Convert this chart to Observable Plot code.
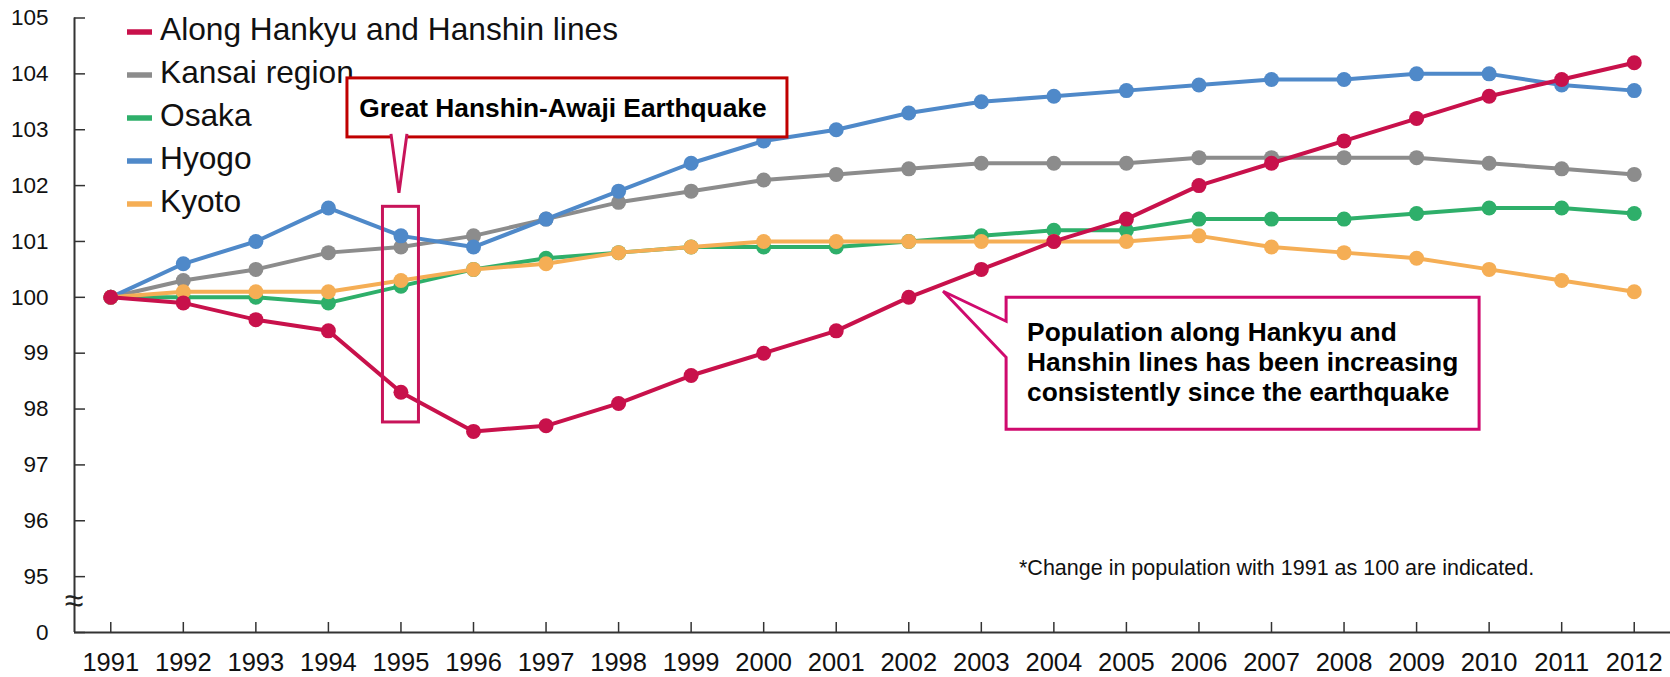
<!DOCTYPE html>
<html>
<head>
<meta charset="utf-8">
<script src="https://cdn.jsdelivr.net/npm/d3@7"></script>
<script src="https://cdn.jsdelivr.net/npm/@observablehq/plot@0.6"></script>
<style>
  html, body { margin: 0; padding: 0; background: #fff; }
  #chart { width: 1670px; height: 677px; }
</style>
</head>
<body>
<div id="chart"></div>
<script>
// Population index, 1991 = 100
const years = [1991, 1992, 1993, 1994, 1995, 1996, 1997, 1998, 1999, 2000, 2001,
               2002, 2003, 2004, 2005, 2006, 2007, 2008, 2009, 2010, 2011, 2012];

const seriesNames  = ["Along Hankyu and Hanshin lines", "Kansai region", "Osaka", "Hyogo", "Kyoto"];
const seriesColors = ["#C8114B", "#8C8C8C", "#2EAF6A", "#4F89C9", "#F5AE55"];

const hankyuHanshin = [100.0, 99.9, 99.6, 99.4, 98.3, 97.6, 97.7, 98.1, 98.6, 99.0, 99.4,
                       100.0, 100.5, 101.0, 101.4, 102.0, 102.4, 102.8, 103.2, 103.6, 103.9, 104.2];
const kansai        = [100.0, 100.3, 100.5, 100.8, 100.9, 101.1, 101.4, 101.7, 101.9, 102.1, 102.2,
                       102.3, 102.4, 102.4, 102.4, 102.5, 102.5, 102.5, 102.5, 102.4, 102.3, 102.2];
const osaka         = [100.0, 100.0, 100.0, 99.9, 100.2, 100.5, 100.7, 100.8, 100.9, 100.9, 100.9,
                       101.0, 101.1, 101.2, 101.2, 101.4, 101.4, 101.4, 101.5, 101.6, 101.6, 101.5];
const hyogo         = [100.0, 100.6, 101.0, 101.6, 101.1, 100.9, 101.4, 101.9, 102.4, 102.8, 103.0,
                       103.3, 103.5, 103.6, 103.7, 103.8, 103.9, 103.9, 104.0, 104.0, 103.8, 103.7];
const kyoto         = [100.0, 100.1, 100.1, 100.1, 100.3, 100.5, 100.6, 100.8, 100.9, 101.0, 101.0,
                       101.0, 101.0, 101.0, 101.0, 101.1, 100.9, 100.8, 100.7, 100.5, 100.3, 100.1];

const yTicks = [0, 95, 96, 97, 98, 99, 100, 101, 102, 103, 104, 105];

const footnote = "*Change in population with 1991 as 100 are indicated.";
const quakeLabel = "Great Hanshin-Awaji Earthquake";
const quakeYear = 1995;
const trendLines = ["Population along Hankyu and", "Hanshin lines has been increasing", "consistently since the earthquake"];

// Tidy table for the marks
const seriesValues = [hankyuHanshin, kansai, osaka, hyogo, kyoto];
const rows = seriesNames.flatMap((name, s) =>
  years.map((year, i) => ({series: name, year, value: seriesValues[s][i]})));

// Paint order: regions underneath, the railway line series on top
const paintOrder = ["Kansai region", "Osaka", "Hyogo", "Kyoto", "Along Hankyu and Hanshin lines"];

// Broken value axis: everything from 0 to 95 is squeezed into one unit below 95
const breakValue = v => (v >= 95 ? v : 94 + v / 95);

const axisColor = "#333333";
const sans = "'Liberation Sans', Arial, Helvetica, sans-serif";
const narrow = "'Liberation Sans Narrow', 'Arial Narrow', 'Liberation Sans', Arial, sans-serif";

const plot = Plot.plot({
  width: 1670,
  height: 677,
  marginLeft: 74,
  marginRight: 0,
  marginTop: 17.5,
  marginBottom: 45,
  style: {fontFamily: sans, background: "#fff", color: "#111", overflow: "visible"},
  x: {domain: [1990.5, 2012.5]},
  y: {transform: breakValue, domain: [94, 105]},
  color: {domain: seriesNames, range: seriesColors},
  marks: [
    Plot.ruleX([1990.5], {stroke: axisColor, strokeWidth: 2}),
    Plot.ruleY([0], {stroke: axisColor, strokeWidth: 2}),
    Plot.axisY(yTicks, {
      tickSize: -11, tickPadding: 37, fontSize: 22.5, stroke: axisColor, strokeWidth: 1.5,
      fill: "#111", label: null, tickFormat: d => String(d)
    }),
    Plot.axisX(years, {
      tickSize: -10, tickPadding: 30, fontSize: 25.5, fontFamily: narrow, stroke: axisColor,
      strokeWidth: 1.5, fill: "#111", label: null, tickFormat: d => String(d)
    }),
    ...paintOrder.flatMap(name => {
      const d = rows.filter(r => r.series === name);
      return [
        Plot.line(d, {x: "year", y: "value", stroke: "series", strokeWidth: 4}),
        Plot.dot(d, {x: "year", y: "value", fill: "series", r: 7.5})
      ];
    })
  ]
});

document.getElementById("chart").appendChild(plot);

// Annotations positioned through the plot's scales (values here are all >= 95)
const X = plot.scale("x").apply;
const Y = plot.scale("y").apply;
const svg = d3.select(plot);
const ann = svg.append("g").attr("font-family", sans).attr("text-anchor", "start");

// axis break mark
const yBreak = Y(95) + 25;
ann.append("text")
  .attr("x", X(1990.5)).attr("y", yBreak)
  .attr("text-anchor", "middle").attr("dy", "0.32em")
  .attr("font-size", 34).attr("fill", "#222")
  .text("\u2248");

// legend
const legend = ann.append("g");
seriesNames.forEach((name, i) => {
  const cy = 32 + i * 43;
  legend.append("line")
    .attr("x1", 127).attr("x2", 152).attr("y1", cy).attr("y2", cy)
    .attr("stroke", seriesColors[i]).attr("stroke-width", 5.5);
  legend.append("text")
    .attr("x", 160).attr("y", cy - 3).attr("dy", "0.36em")
    .attr("text-anchor", "start")
    .attr("font-size", 31.7).attr("fill", "#111")
    .text(name);
});

// highlight around the earthquake year
ann.append("rect")
  .attr("x", X(quakeYear) - 18).attr("y", Y(101.62))
  .attr("width", 36).attr("height", Y(97.76) - Y(101.62))
  .attr("fill", "none").attr("stroke", "#C8145A").attr("stroke-width", 3);

// earthquake callout
{
  const tipX = X(quakeYear) - 1.5, tipY = Y(101.86);
  const left = tipX - 52, top = tipY - 115, w = 440, h = 59;
  ann.append("rect")
    .attr("x", left).attr("y", top).attr("width", w).attr("height", h)
    .attr("fill", "#fff").attr("stroke", "#C00000").attr("stroke-width", 3);
  ann.append("path")
    .attr("d", `M${tipX - 8},${top + h - 3} L${tipX},${tipY} L${tipX + 8},${top + h - 3}`)
    .attr("fill", "#fff").attr("stroke", "#C8145A").attr("stroke-width", 3)
    .attr("stroke-linejoin", "miter");
  ann.append("text")
    .attr("x", left + w / 2 - 4).attr("y", top + h / 2).attr("dy", "0.36em")
    .attr("text-anchor", "middle").attr("font-size", 26.3).attr("font-weight", "bold")
    .attr("fill", "#000")
    .text(quakeLabel);
}

// trend callout
{
  const tipX = X(2002.48), tipY = Y(100.1);
  const left = tipX + 63, top = tipY + 6, w = 473, h = 132;
  ann.append("path")
    .attr("d", `M${left},${top} H${left + w} V${top + h} H${left} V${top + 60} L${tipX},${tipY} L${left},${top + 24} Z`)
    .attr("fill", "#fff").attr("stroke", "#CF0A6E").attr("stroke-width", 3)
    .attr("stroke-linejoin", "miter");
  trendLines.forEach((line, i) => {
    ann.append("text")
      .attr("x", left + 21).attr("y", top + 34 + i * 30).attr("dy", "0.36em")
      .attr("text-anchor", "start")
      .attr("font-size", 26.3).attr("font-weight", "bold").attr("fill", "#000")
      .text(line);
  });
}

// footnote
ann.append("text")
  .attr("x", 1019).attr("y", 567).attr("dy", "0.36em")
  .attr("text-anchor", "start")
  .attr("font-size", 21.5).attr("fill", "#111")
  .text(footnote);
</script>
</body>
</html>
